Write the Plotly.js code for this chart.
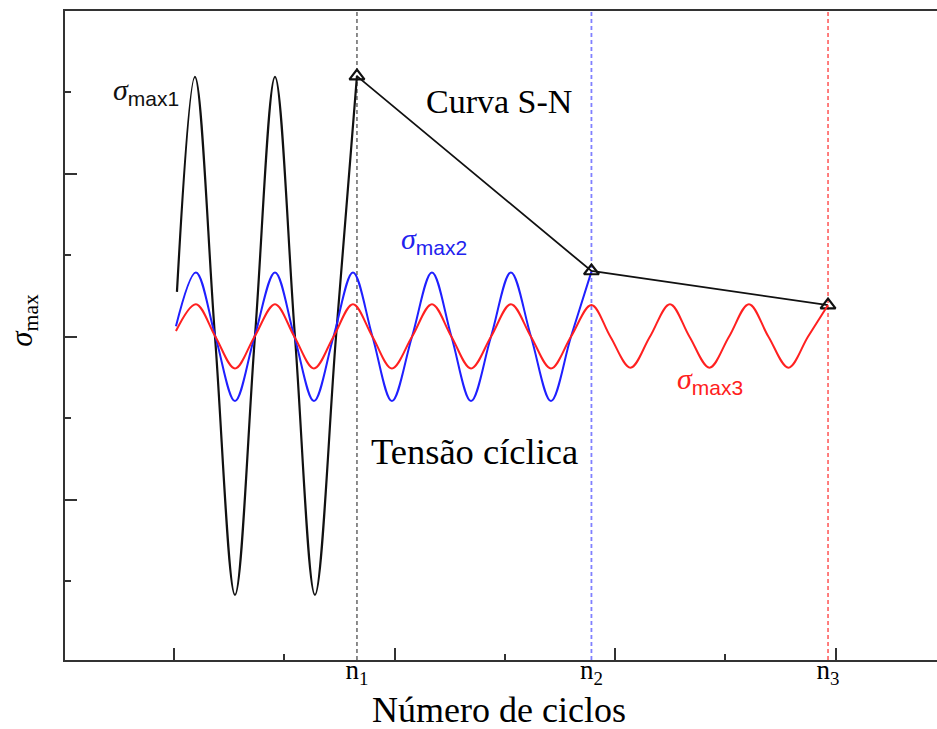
<!DOCTYPE html>
<html>
<head>
<meta charset="utf-8">
<script src="https://cdn.plot.ly/plotly-3.0.1.min.js"></script>
<style>
html, body { margin: 0; padding: 0; background: #fff; overflow: hidden; }
#chart { width: 937px; height: 729px; }
</style>
</head>
<body>
<div id="chart"></div>
<script>
// Cycle positions of the three failure points (x-axis labels n1, n2, n3)
const nPositions = [1.659, 3.785, 5.93];
const nLabels = ['n<sub>1</sub>', 'n<sub>2</sub>', 'n<sub>3</sub>'];

// Cyclic stress curve, sigma_max1 (black)
const blackX = [0.027, 0.190, 0.372, 0.553, 0.734, 0.916, 1.097, 1.278, 1.469, 1.659];
const blackY = [0.55, 3.19, 0, -3.17, 0, 3.19, 0, -3.17, 0, 3.20];

// Cyclic stress curve, sigma_max2 (blue)
const blueX = [0.018, 0.199, 0.376, 0.553, 0.730, 0.916, 1.092, 1.269, 1.446, 1.623, 1.800,
               1.976, 2.158, 2.339, 2.516, 2.693, 2.874, 3.055, 3.237, 3.418, 3.599, 3.785];
const blueY = [0.13, 0.79, 0, -0.79, 0, 0.79, 0, -0.79, 0, 0.79, 0,
               -0.79, 0, 0.79, 0, -0.79, 0, 0.79, 0, -0.79, 0, 0.80];

// Cyclic stress curve, sigma_max3 (red)
const redX = [0.018, 0.199, 0.376, 0.553, 0.730, 0.916, 1.092, 1.269, 1.446, 1.623, 1.800,
              1.976, 2.158, 2.339, 2.516, 2.693, 2.874, 3.055, 3.237, 3.418, 3.599, 3.785,
              3.957, 4.139, 4.315, 4.497, 4.674, 4.855, 5.032, 5.213, 5.390, 5.571, 5.748, 5.93];
const redY = [0.07, 0.40, 0, -0.39, 0, 0.40, 0, -0.39, 0, 0.40, 0,
              -0.39, 0, 0.40, 0, -0.39, 0, 0.40, 0, -0.39, 0, 0.39,
              0, -0.38, 0, 0.40, 0, -0.38, 0, 0.40, 0, -0.38, 0, 0.39];

// S-N curve points (failure at n1, n2, n3)
const snX = [1.659, 3.785, 5.93];
const snY = [3.20, 0.807, 0.389];

const xTitle = 'Número de ciclos';
const yTitle = '<i>σ</i><sub>max</sub>';

const serif = 'Liberation Serif, Times New Roman, serif';

const traces = [
  { x: blackX, y: blackY, type: 'scatter', mode: 'lines',
    line: { color: '#111111', width: 2.2, shape: 'spline', smoothing: 1 }, hoverinfo: 'skip' },
  { x: blueX, y: blueY, type: 'scatter', mode: 'lines',
    line: { color: '#1f1fff', width: 2, shape: 'spline', smoothing: 1 }, hoverinfo: 'skip' },
  { x: snX, y: snY, type: 'scatter', mode: 'lines+markers',
    line: { color: '#111111', width: 1.8 },
    marker: { symbol: 'triangle-up-open', size: 13, color: '#111111', line: { width: 2.2, color: '#111111' } },
    hoverinfo: 'skip' },
  // red curve lives on the overlaid tick axis (identical range) so that axis is drawn
  { x: redX, y: redY, type: 'scatter', mode: 'lines', xaxis: 'x2', yaxis: 'y',
    line: { color: '#ff2020', width: 2, shape: 'spline', smoothing: 1 }, hoverinfo: 'skip' }
];

const vColors = ['#808080', '#8080ff', '#ff7070'];
const shapes = nPositions.map((p, i) => ({
  type: 'line', xref: 'x', yref: 'paper', x0: p, x1: p, y0: 0, y1: 1,
  line: { color: vColors[i], width: 1.8, dash: '4px,3px' }, layer: 'below'
}));

const subStyle = 'font-family:Liberation Sans, Arial, sans-serif';
const annotations = [
  { x: -0.254, y: 3.017, xref: 'x', yref: 'y', showarrow: false,
    text: '<i>σ</i><sub><span style="' + subStyle + '">max1</span></sub>',
    font: { family: serif, size: 30, color: '#111111' } },
  { x: 2.353, y: 1.187, xref: 'x', yref: 'y', showarrow: false,
    text: '<i>σ</i><sub><span style="' + subStyle + '">max2</span></sub>',
    font: { family: serif, size: 30, color: '#2222ee' } },
  { x: 4.864, y: -0.532, xref: 'x', yref: 'y', showarrow: false,
    text: '<i>σ</i><sub><span style="' + subStyle + '">max3</span></sub>',
    font: { family: serif, size: 30, color: '#ff2020' } },
  { x: 2.946, y: 2.894, xref: 'x', yref: 'y', showarrow: false,
    text: 'Curva S-N', font: { family: serif, size: 34, color: '#000000' } },
  { x: 2.729, y: -1.404, xref: 'x', yref: 'y', showarrow: false,
    text: 'Tensão cíclica', font: { family: serif, size: 36.5, color: '#000000' } },
  // x-axis title
  { x: 0.4975, y: -0.077, xref: 'paper', yref: 'paper', showarrow: false,
    xanchor: 'center', yanchor: 'middle', borderpad: 0,
    text: xTitle, font: { family: serif, size: 36, color: '#000000' } },
  // y-axis title
  { x: -0.048, y: 0.523, xref: 'paper', yref: 'paper', showarrow: false, textangle: -90,
    xanchor: 'center', yanchor: 'middle',
    text: yTitle, font: { family: serif, size: 31, color: '#000000' } }
];

const xRange = [-0.988, 6.918];
const yRange = [-3.97, 4.0];

const layout = {
  width: 937, height: 729,
  margin: { l: 65, r: 0, t: 11, b: 69, pad: 0 },
  paper_bgcolor: '#ffffff', plot_bgcolor: '#ffffff',
  showlegend: false,
  font: { family: serif, color: '#000000' },
  xaxis: {
    range: xRange, showgrid: false, zeroline: false,
    showline: true, linecolor: '#333333', linewidth: 2, mirror: true,
    tickmode: 'array', tickvals: nPositions, ticktext: nLabels,
    ticks: '', ticklen: 0, ticklabelstandoff: -15,
    tickfont: { family: serif, size: 27, color: '#000000' },
    automargin: false,
    fixedrange: true
  },
  xaxis2: {
    range: xRange, overlaying: 'x', anchor: 'y', side: 'bottom',
    showgrid: false, zeroline: false, showline: false, showticklabels: false,
    tickmode: 'linear', tick0: 0, dtick: 2,
    ticks: 'inside', ticklen: 12, tickwidth: 2, tickcolor: '#333333',
    minor: { tick0: 0, dtick: 1, ticks: 'inside', ticklen: 6, tickwidth: 2, tickcolor: '#333333', showgrid: false },
    automargin: false,
    fixedrange: true
  },
  yaxis: {
    range: yRange, showgrid: false, zeroline: false,
    showline: true, linecolor: '#333333', linewidth: 2, mirror: false,
    showticklabels: false,
    tickmode: 'linear', tick0: 0, dtick: 2,
    ticks: 'inside', ticklen: 12, tickwidth: 2, tickcolor: '#333333',
    minor: { tick0: 0, dtick: 1, ticks: 'inside', ticklen: 6, tickwidth: 2, tickcolor: '#333333', showgrid: false },
    automargin: false,
    fixedrange: true
  },
  shapes: shapes,
  annotations: annotations
};

Plotly.newPlot('chart', traces, layout, { displayModeBar: false, staticPlot: true });
</script>
</body>
</html>
